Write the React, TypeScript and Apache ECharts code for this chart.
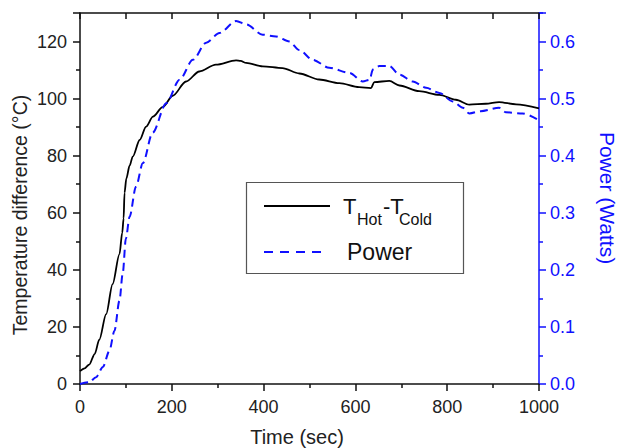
import React, { useEffect, useRef } from "react";
import * as echarts from "echarts";

// Temperature difference T_hot - T_cold (°C) over time (sec)
const tempTimes = [0, 10, 20, 32, 42, 57, 71, 86, 92, 95, 97, 101, 108, 115, 130, 144, 159, 180, 202, 231, 260, 296, 340, 350, 362, 398, 441, 478, 521, 565, 608, 634, 641, 674, 696, 739, 783, 819, 848, 884, 913, 950, 1000];
const tempValues = [4.5, 5.5, 6.8, 10.5, 15.5, 24.5, 35, 45.5, 53, 58, 67, 72, 76.5, 79.7, 85.5, 90.2, 93.7, 97, 101, 106, 109.5, 111.9, 113.4, 113.2, 112.5, 111.3, 110.7, 108.8, 106.7, 105.4, 104.0, 103.7, 105.8, 106.2, 104.6, 102.6, 101.3, 99.6, 97.9, 98.2, 98.8, 98.0, 96.6];

// Generated power (Watts) over time (sec)
const powerTimes = [0, 20, 35, 50, 64, 75, 86, 93, 100, 108, 122, 137, 158, 188, 217, 246, 275, 304, 340, 362, 398, 427, 456, 478, 507, 543, 587, 616, 631, 638, 652, 674, 696, 725, 754, 783, 812, 834, 848, 873, 913, 928, 964, 1000];
const powerValues = [0, 0.003, 0.012, 0.03, 0.058, 0.093, 0.146, 0.193, 0.255, 0.293, 0.346, 0.387, 0.44, 0.492, 0.533, 0.568, 0.598, 0.615, 0.636, 0.63, 0.612, 0.609, 0.6, 0.585, 0.568, 0.554, 0.545, 0.53, 0.533, 0.551, 0.557, 0.557, 0.542, 0.53, 0.519, 0.51, 0.495, 0.484, 0.474, 0.478, 0.484, 0.476, 0.474, 0.462];

const FONT = "'Liberation Sans', Arial, sans-serif";
const BLUE = "#1010ff";
const INK = "#111111";

export default function App() {
  const ref = useRef<HTMLDivElement>(null);

  useEffect(() => {
    if (!ref.current) return;
    const chart = echarts.init(ref.current, null, { renderer: "svg" });

    const tempData = tempTimes.map((t, i) => [t, tempValues[i]]);
    const powerData = powerTimes.map((t, i) => [t, powerValues[i]]);

    chart.setOption({
      animation: false,
      backgroundColor: "#ffffff",
      textStyle: { fontFamily: FONT },
      grid: { left: 80, top: 13, width: 459, height: 371, containLabel: false },
      xAxis: [
        {
          type: "value",
          position: "bottom",
          min: 0,
          max: 1000,
          interval: 200,
          axisLine: { onZero: false, lineStyle: { color: INK, width: 1.5 } },
          axisTick: { show: true, inside: false, length: 7, lineStyle: { color: INK, width: 1.5 } },
          minorTick: { show: true, splitNumber: 2, length: 4, lineStyle: { color: INK, width: 1.5 } },
          axisLabel: { fontSize: 18, color: "#222", margin: 14, fontFamily: FONT, formatter: (v: number) => String(v) },
          splitLine: { show: false },
        },
        {
          type: "value",
          position: "top",
          min: 0,
          max: 1000,
          interval: 100,
          axisLine: { onZero: false, lineStyle: { color: INK, width: 1.5 } },
          axisTick: { show: true, inside: true, length: 6, lineStyle: { color: INK, width: 1.5 } },
          axisLabel: { show: false },
          splitLine: { show: false },
        },
      ],
      yAxis: [
        {
          type: "value",
          position: "left",
          min: 0,
          max: 130,
          interval: 20,
          axisLine: { show: true, onZero: false, lineStyle: { color: INK, width: 1.5 } },
          axisTick: { show: true, inside: false, length: 7, lineStyle: { color: INK, width: 1.5 } },
          minorTick: { show: true, splitNumber: 2, length: 4, lineStyle: { color: INK, width: 1.5 } },
          axisLabel: { fontSize: 18, color: "#222", margin: 13, showMaxLabel: false, fontFamily: FONT },
          splitLine: { show: false },
        },
        {
          type: "value",
          position: "right",
          min: 0,
          max: 0.65,
          interval: 0.1,
          axisLine: { show: true, onZero: false, lineStyle: { color: BLUE, width: 1.5 } },
          axisTick: { show: true, inside: false, length: 7, lineStyle: { color: BLUE, width: 1.5 } },
          minorTick: { show: true, splitNumber: 2, length: 4, lineStyle: { color: BLUE, width: 1.5 } },
          axisLabel: {
            fontSize: 18,
            color: BLUE,
            margin: 11,
            showMaxLabel: false,
            fontFamily: FONT,
            formatter: (v: number) => v.toFixed(1),
          },
          splitLine: { show: false },
        },
      ],
      series: [
        {
          name: "THot-TCold",
          type: "line",
          xAxisIndex: 0,
          yAxisIndex: 0,
          data: tempData,
          showSymbol: false,
          smooth: 0.3,
          smoothMonotone: "x",
          lineStyle: { color: "#000000", width: 1.8 },
        },
        {
          name: "Power",
          type: "line",
          xAxisIndex: 0,
          yAxisIndex: 1,
          data: powerData,
          showSymbol: false,
          smooth: 0.3,
          smoothMonotone: "x",
          lineStyle: { color: BLUE, width: 2, type: [8, 5] },
        },
      ],
      graphic: [
        // axis titles
        {
          type: "text",
          x: 297,
          y: 437,
          style: { text: "Time (sec)", fontSize: 20, fontFamily: FONT, fill: "#222", textAlign: "center", textVerticalAlign: "middle" },
        },
        {
          type: "text",
          x: 20,
          y: 215,
          rotation: Math.PI / 2,
          style: { text: "Temperature difference (°C)", fontSize: 19.5, fontFamily: FONT, fill: "#222", textAlign: "center", textVerticalAlign: "middle" },
        },
        {
          type: "text",
          x: 607,
          y: 198,
          rotation: -Math.PI / 2,
          style: { text: "Power (Watts)", fontSize: 21, fontFamily: FONT, fill: BLUE, textAlign: "center", textVerticalAlign: "middle" },
        },
        // legend box
        {
          type: "rect",
          shape: { x: 246.5, y: 182.5, width: 217, height: 91 },
          style: { fill: "#ffffff", stroke: "#555", lineWidth: 1.2 },
          z: 10,
        },
        {
          type: "line",
          shape: { x1: 264, y1: 206, x2: 330, y2: 206 },
          style: { stroke: "#000", lineWidth: 1.8 },
          z: 11,
        },
        {
          type: "line",
          shape: { x1: 264, y1: 252, x2: 322, y2: 252 },
          style: { stroke: BLUE, lineWidth: 2, lineDash: [9, 7] },
          z: 11,
        },
        {
          type: "text",
          x: 343,
          y: 206,
          z: 11,
          style: { text: "T", fontSize: 22, fontFamily: FONT, fill: "#111", textAlign: "left", textVerticalAlign: "middle" },
        },
        {
          type: "text",
          x: 357,
          y: 219,
          z: 11,
          style: { text: "Hot", fontSize: 16, fontFamily: FONT, fill: "#111", textAlign: "left", textVerticalAlign: "middle" },
        },
        {
          type: "text",
          x: 383,
          y: 206,
          z: 11,
          style: { text: "-T", fontSize: 22, fontFamily: FONT, fill: "#111", textAlign: "left", textVerticalAlign: "middle" },
        },
        {
          type: "text",
          x: 399,
          y: 219,
          z: 11,
          style: { text: "Cold", fontSize: 16, fontFamily: FONT, fill: "#111", textAlign: "left", textVerticalAlign: "middle" },
        },
        {
          type: "text",
          x: 347,
          y: 252,
          z: 11,
          style: { text: "Power", fontSize: 23, fontFamily: FONT, fill: "#111", textAlign: "left", textVerticalAlign: "middle" },
        },
      ],
    });

    return () => chart.dispose();
  }, []);

  return <div ref={ref} style={{ width: 618, height: 448, position: "absolute", left: 0, top: 0 }} />;
}
